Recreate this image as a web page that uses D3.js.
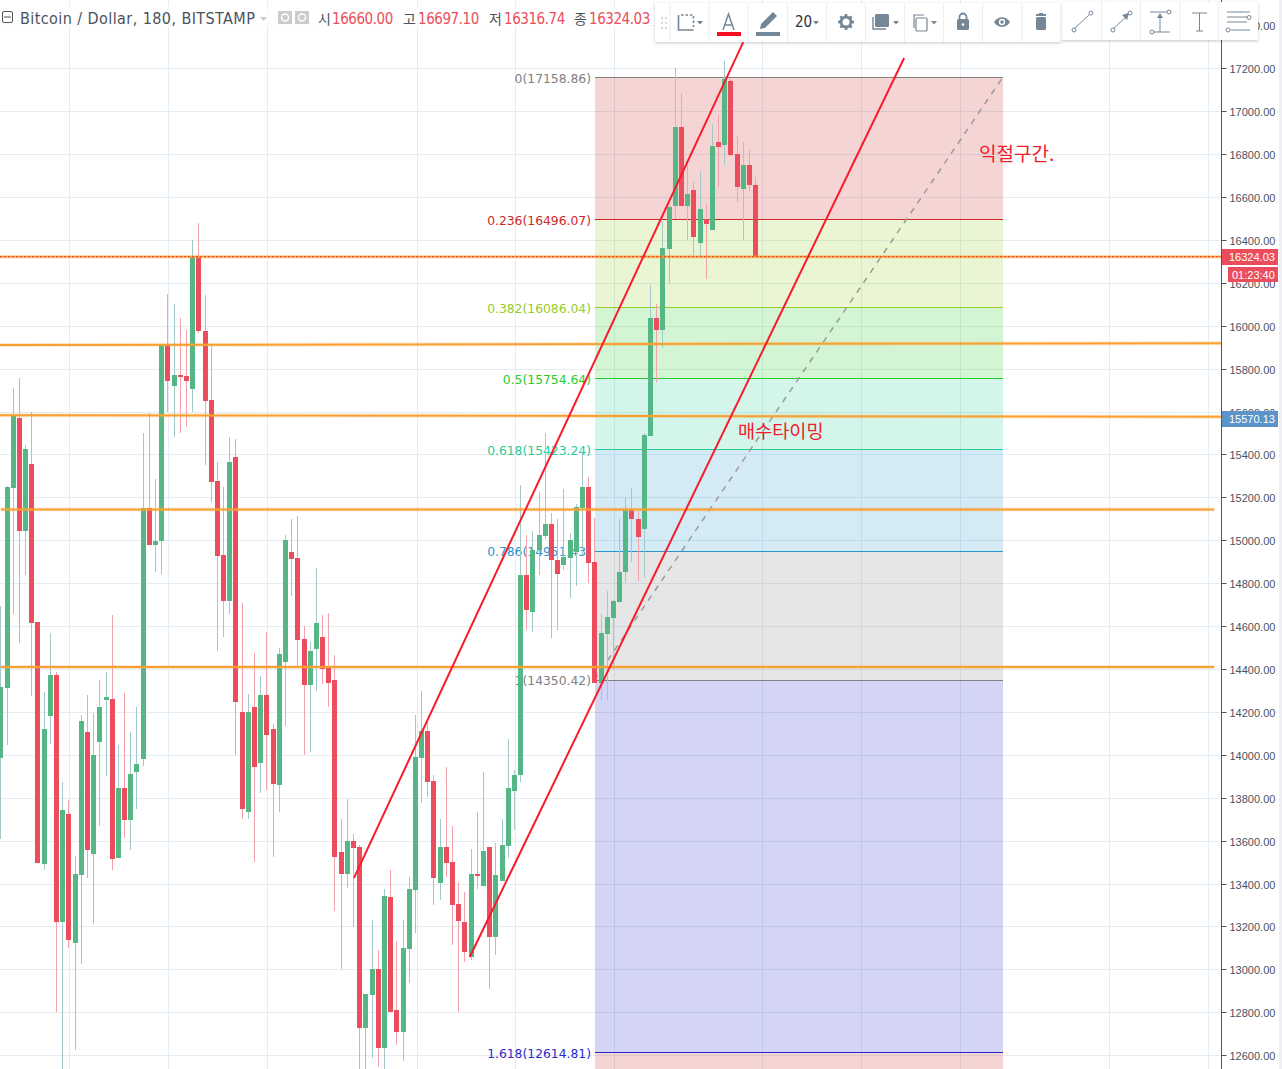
<!DOCTYPE html>
<html><head><meta charset="utf-8">
<script src="https://d3js.org/d3.v7.min.js"></script>
<style>html,body{margin:0;padding:0;background:#fff;overflow:hidden}svg{display:block}text{white-space:pre}</style>
</head><body><div id="c"></div>
<script>
const opens=[13988,14314,15246,15572,15046,15358,14621,13494,14183,14374,13223,13727,13126,13442,14109,13540,14062,14258,14263,13522,13848,13699,13922,13983,15153,14980,14999,15917,15721,15772,15768,15707,16322,15978,15656,15279,14934,14719,15390,14202,13736,14225,13964,14281,14123,13862,14435,14948,14920,14542,14328,14496,14552,14407,14351,13550,13447,13601,13573,12730,12883,13004,12636,13340,12813,12711,13098,13373,13988,14114,13881,13405,13573,13503,13307,13223,13060,13447,13391,13573,13154,13415,13578,13834,13908,14840,14668,14957,15022,15078,14910,14887,14920,14948,15153,15251,14901,14337,14566,14640,14715,14854,15148,15101,15055,15488,16038,15982,16360,16560,16928,16560,16635,16388,16499,16448,16858,16844,17143,16802,16639,16751,16660];
const highs=[14696,15255,15712,15759,15446,15600,14621,14295,14570,14388,13876,13792,13531,14188,14281,14197,14351,14388,14654,14048,14291,14109,14225,15502,15595,15288,15917,16150,16103,16038,15982,16402,16481,16145,15917,15367,15251,15484,15474,14710,14286,14477,14370,14575,14146,14500,15027,15101,15115,14603,14528,14873,14654,14663,14468,13703,13797,13634,13582,12888,13233,13093,13377,13466,13135,13233,13433,14188,14300,14165,13908,13703,13946,13671,13410,13363,13564,13736,13922,13573,13592,13703,14076,13932,15260,15027,15046,15227,15502,15129,15101,15241,15036,15171,15418,15297,15106,14659,14766,14724,15101,15204,15246,15139,15502,16192,16103,16490,16565,17203,17087,16751,16672,16723,16569,16942,16984,17236,17152,16886,16858,16821,16697.1];
const lows=[13610,14048,14659,14524,14840,14277,13498,13466,14053,12804,12510,13102,12627,13028,13429,13214,13671,13904,13466,13522,13615,13559,13750,13950,14980,14854,14845,15600,15484,15502,15530,15600,15968,15353,15181,14486,14552,14659,14002,13703,13703,13503,13825,13839,13526,13736,14137,14743,14416,14002,14016,14300,14333,14225,13275,13004,13382,13200,12510,12510,12590,12548,12510,12804,12650,12576,12939,13172,13778,13806,13303,13326,13433,13116,12804,13037,13046,13377,13391,12911,13070,13415,13522,13652,13876,14584,14575,14840,15008,14547,14584,14864,14733,14789,14934,14803,14337,14258,14258,14398,14710,14803,14901,14813,14827,15488,15740,15898,16197,16499,16560,16402,16332,16322,16220,16448,16649,16751,16793,16579,16402,16630,16316.74];
const closes=[14319,15251,15586,15046,15428,14617,13498,14123,14374,13223,13745,13140,13447,14160,13559,14002,14225,14272,13517,13848,13699,13913,13960,15153,14980,14999,15912,15745,15772,15763,15745,16322,15978,15651,15274,14929,14719,15367,14249,13750,14202,13946,14281,14095,13867,14472,15004,14915,14538,14328,14486,14617,14402,14337,13526,13447,13601,13568,12730,12888,13004,12636,13345,12804,12711,13102,13377,13992,14114,13876,13429,13573,13498,13303,13228,13084,13447,13442,13554,13154,13442,13582,13848,13908,14840,14677,14957,15027,15078,14910,14845,14924,15004,15157,15251,14896,14337,14570,14645,14719,14854,15148,15101,15018,15493,16038,15982,16364,16555,16928,16560,16616,16416,16546,16476,16840,16835,17152,16798,16649,16751,16658,16324.03];
const priceTicks=[12600,12800,13000,13200,13400,13600,13800,14000,14200,14400,14600,14800,15000,15200,15400,15600,15800,16000,16200,16400,16600,16800,17000,17200,17400];
const fibPrices=[17158.86,16496.07,16086.04,15754.64,15423.24,14951.43,14350.42,12614.81];
const fibLabels=["0(17158.86)","0.236(16496.07)","0.382(16086.04)","0.5(15754.64)","0.618(15423.24)","0.786(14951.43)","1(14350.42)","1.618(12614.81)"];
const fibLineColors=["#808080","#cc2828","#95cc28","#28cc28","#28cc95","#2895cc","#808080","#2929cc"];
const fibBandColors=["rgba(204,40,40,.2)","rgba(149,204,40,.2)","rgba(40,204,40,.2)","rgba(40,204,149,.2)","rgba(40,149,204,.2)","rgba(128,128,128,.2)","rgba(41,41,204,.2)","rgba(204,40,40,.2)"];
const lastPrice=16324.03, fibX0=95.9, fibX1=161.9;
const sloped=[[57.0,13429,119.9,17324],[75.7,13060,145.9,17250]];
const levels=[[-0.2,15912,197.2,15921],[-0.2,15585,197.2,15578],[0,15146,196.1,15146],[0,14412,196.1,14412]];
const headerVals=["16660.00","16697.10","16316.74","16324.03"];
const headerKeys=["시","고","저","종"];

const W=1282,H=1069,AX=1221;
const svg=d3.select("#c").append("svg").attr("width",W).attr("height",H).style("font-family","'Liberation Sans',sans-serif");
const x=d3.scaleLinear().domain([0,122]).range([0.85,755.725]);
const y=d3.scaleLinear().domain([12300,17600]).range([68.7+4900*0.21457,68.7-400*0.21457]);
const py=v=>Math.floor(y(v))+.5;
const GRID="#e4edf3",GREEN="#56b786",RED="#eb4d5c",GW="#a2c9c9",RW="#f4a3ad",ORANGE="#f9a032";

// grid
const gx=[69,168,267,417,515,614,762,861,960,1109,1208];
const g0=svg.append("g");
g0.selectAll("line.h").data(priceTicks).join("line").attr("x1",0).attr("x2",AX)
 .attr("y1",py).attr("y2",py).attr("stroke",GRID);
g0.selectAll("line.v").data(gx).join("line").attr("x1",d=>d+.5).attr("x2",d=>d+.5).attr("y1",0).attr("y2",H).attr("stroke",GRID);

// fib bands
const g1=svg.append("g");
const bandEdges=fibPrices.map(p=>Math.floor(y(p))).concat([H]);
g1.selectAll("rect").data(fibBandColors).join("rect").attr("x",595).attr("width",408)
 .attr("y",(d,i)=>bandEdges[i]).attr("height",(d,i)=>bandEdges[i+1]-bandEdges[i]).attr("fill",d=>d);
g1.selectAll("line").data(fibPrices).join("line").attr("x1",595).attr("x2",1003)
 .attr("y1",py).attr("y2",py).attr("stroke",(d,i)=>fibLineColors[i]);
g1.selectAll("text").data(fibLabels).join("text").text(d=>d).attr("x",591).attr("y",(d,i)=>Math.round(y(fibPrices[i]))+4.5)
 .attr("text-anchor","end").attr("fill",(d,i)=>fibLineColors[i]).attr("font-family","'DejaVu Sans',sans-serif").attr("font-size",12.35);
// fib diagonal
svg.append("line").attr("x1",x(fibX0)).attr("x2",x(fibX1)).attr("y1",y(fibPrices[6])).attr("y2",y(fibPrices[0]))
 .attr("stroke","#9a9a9a").attr("stroke-width",1.5).attr("stroke-dasharray","6 6");

// candles
const bars=d3.range(opens.length);
const col=i=>closes[i]>=opens[i];
const gc=svg.append("g");
gc.selectAll("rect.w").data(bars).join("rect").attr("x",i=>Math.floor(x(i))).attr("width",1)
 .attr("y",i=>Math.round(y(highs[i]))).attr("height",i=>Math.max(1,Math.round(y(lows[i]))-Math.round(y(highs[i]))))
 .attr("fill",i=>col(i)?GW:RW);
gc.selectAll("rect.b").data(bars).join("rect").attr("x",i=>Math.floor(x(i))-2).attr("width",5)
 .attr("y",i=>Math.round(y(Math.max(opens[i],closes[i]))))
 .attr("height",i=>Math.max(2,Math.round(y(Math.min(opens[i],closes[i])))-Math.round(y(Math.max(opens[i],closes[i])))))
 .attr("fill",i=>col(i)?GREEN:RED);

// horizontal levels
const gl=svg.append("g");
function lvl(d){return {x1:x(d[0]),x2:x(d[2]),y1:y(d[1]),y2:y(d[3])};}
levels.forEach(d=>{const p=lvl(d);
 [[4,.22],[2,1]].forEach(s=>gl.append("line").attr("x1",p.x1).attr("x2",p.x2).attr("y1",p.y1).attr("y2",p.y2).attr("stroke",ORANGE).attr("stroke-width",s[0]).attr("opacity",s[1]));
});
[[4,.22],[2,.9]].forEach(s=>gl.append("line").attr("x1",0).attr("x2",AX).attr("y1",y(lastPrice)).attr("y2",y(lastPrice)).attr("stroke",ORANGE).attr("stroke-width",s[0]).attr("opacity",s[1]));
gl.append("line").attr("x1",0).attr("x2",AX).attr("y1",y(lastPrice)).attr("y2",y(lastPrice)).attr("stroke","#ee3344").attr("stroke-dasharray","2 2");

// sloped trend lines
svg.append("g").selectAll("line").data(sloped).join("line")
 .attr("x1",d=>x(d[0])+.5).attr("y1",d=>y(d[1])).attr("x2",d=>x(d[2])+.5).attr("y2",d=>y(d[3]))
 .attr("stroke","#fa1a2a").attr("stroke-width",2);

// Korean notes
const note=(t,px,yy,fs)=>svg.append("text").text(t).attr("x",px).attr("y",yy).attr("fill","#f01c2c").attr("font-size",fs)
 .attr("font-family","'Noto Sans CJK KR',sans-serif");
note("익절구간.",979,161,19);
note("매수타이밍",738,438,18.6);

// axis
const axis=d3.axisRight(y).tickValues(priceTicks).tickSize(5).tickSizeOuter(0).tickPadding(3).offset(0).tickFormat(d3.format(".2f"));
const ga=svg.append("g").attr("transform",`translate(${AX+.5},0)`).call(axis);
ga.selectAll(".tick").attr("transform",d=>`translate(0,${py(d)})`);
ga.selectAll("text").attr("font-size",11).attr("fill","#4c525e").attr("font-family","'Liberation Sans',sans-serif").attr("dy","0.36em").attr("y",1);
ga.selectAll("line").attr("stroke","#555");
ga.select(".domain").attr("stroke","#555");
svg.append("rect").attr("x",1279).attr("y",0).attr("width",3).attr("height",H).attr("fill","#eef0f3");

function tag(x0,x1,y0,y1,fill,t,tx){
 svg.append("rect").attr("x",x0).attr("y",y0).attr("width",x1-x0).attr("height",y1-y0).attr("fill",fill);
 svg.append("text").text(t).attr("x",tx).attr("y",(y0+y1)/2+4).attr("fill","#fff").attr("font-size",11).attr("font-family","'Liberation Sans',sans-serif");
}
tag(1222,1278,249,265,RED,"16324.03",1229);
tag(1228,1278,267,282,RED,"01:23:40",1232);
tag(1222,1278,411,427,"#5a94c9","15570.13",1229);

// header
const hd=svg.append("g").attr("font-family","'DejaVu Sans Condensed','DejaVu Sans',sans-serif");
hd.append("rect").attr("x",0).attr("y",6).attr("width",652).attr("height",21).attr("fill","#fff").attr("opacity",.75);
hd.append("rect").attr("x",2.5).attr("y",11.5).attr("width",10).attr("height",11).attr("rx",1.5).attr("fill","none").attr("stroke","#555");
hd.append("line").attr("x1",4).attr("x2",11).attr("y1",17).attr("y2",17).attr("stroke","#555");
hd.append("text").text("Bitcoin / Dollar, 180, BITSTAMP").attr("x",20).attr("y",24).attr("font-size",16).attr("letter-spacing",.42).attr("fill","#4c525e");
hd.append("path").attr("d","M260 17h7l-3.5 4z").attr("fill","#ccc");
[278,295].forEach(px=>{hd.append("rect").attr("x",px).attr("y",11).attr("width",14).attr("height",13).attr("fill","#ccc");
 hd.append("circle").attr("cx",px+7).attr("cy",17.5).attr("r",3.5).attr("fill","none").attr("stroke","#fff").attr("stroke-width",1.5);});
const keyX=[318,403,489,574],valX=[332,418,504,589];
headerKeys.forEach((k,i)=>{
 hd.append("text").text(k).attr("x",keyX[i]).attr("y",24).attr("font-size",14).attr("fill","#4c525e").attr("font-family","'Noto Sans CJK KR',sans-serif");
 hd.append("text").text(headerVals[i]).attr("x",valX[i]).attr("y",24).attr("font-size",15).attr("letter-spacing",-.45).attr("fill",RED);
});

// toolbars
const tb=svg.append("g");
const defs=svg.append("defs");
const f=defs.append("filter").attr("id","s").attr("x","-5%").attr("y","-20%").attr("width","110%").attr("height","140%");
f.append("feDropShadow").attr("dx",0).attr("dy",1).attr("stdDeviation",1.5).attr("flood-color","#000").attr("flood-opacity",.22);
tb.append("rect").attr("x",1061).attr("y",2).attr("width",197).attr("height",38).attr("fill","#fff").attr("filter","url(#s)");
tb.append("rect").attr("x",655).attr("y",3).attr("width",405.5).attr("height",39).attr("fill","#fff").attr("filter","url(#s)");
[670,709,748,787.5,826.5,865.5,904.5,943.5,982.5,1022].forEach(v=>tb.append("line").attr("x1",v).attr("x2",v).attr("y1",3).attr("y2",42).attr("stroke","#eceef1"));
[1101.5,1140.5,1180,1218.5].forEach(v=>tb.append("line").attr("x1",v).attr("x2",v).attr("y1",2).attr("y2",40).attr("stroke","#eceef1"));
const IC="#758696";
[661,665].forEach(a=>[17,22,27].forEach(b=>tb.append("rect").attr("x",a).attr("y",b).attr("width",2).attr("height",2).attr("fill","#d4d8dc")));
const caret=px=>tb.append("path").attr("d",`M${px} 21h6l-3 3.5z`).attr("fill",IC);
tb.append("path").attr("d","M678.5 15v15h15").attr("fill","none").attr("stroke",IC).attr("stroke-width",1.6);
tb.append("path").attr("d","M681 15h12.5v12").attr("fill","none").attr("stroke",IC).attr("stroke-width",1.6).attr("stroke-dasharray","2.5 2");
caret(697);
tb.append("path").attr("d","M723 30l5.5-16 5.5 16M725 25h7").attr("fill","none").attr("stroke",IC).attr("stroke-width",1.5);
tb.append("rect").attr("x",717).attr("y",32).attr("width",24).attr("height",4).attr("fill","#f5101f");
tb.append("path").attr("d","M760 29l1-5 12-12 4 4-12 12z").attr("fill",IC);
tb.append("rect").attr("x",756).attr("y",32).attr("width",24).attr("height",4).attr("fill",IC);
tb.append("text").text("20").attr("x",795).attr("y",27).attr("font-size",15).attr("fill","#333").attr("font-family","'DejaVu Sans Condensed','DejaVu Sans',sans-serif");
caret(813);
tb.append("circle").attr("cx",846).attr("cy",22).attr("r",5).attr("fill","none").attr("stroke",IC).attr("stroke-width",3);
d3.range(8).forEach(a=>tb.append("rect").attr("x",844.7).attr("y",14).attr("width",2.6).attr("height",3).attr("fill",IC).attr("transform",`rotate(${a*45} 846 22)`));
tb.append("path").attr("d","M873 17v12h13").attr("fill","none").attr("stroke",IC).attr("stroke-width",1.4);
tb.append("rect").attr("x",875).attr("y",14).attr("width",14).attr("height",13).attr("rx",1.5).attr("fill",IC);
caret(893);
tb.append("rect").attr("x",916).attr("y",18).attr("width",11).attr("height",13).attr("rx",1).attr("fill","none").attr("stroke",IC).attr("stroke-width",1.2);
tb.append("path").attr("d","M914 28V15h10").attr("fill","none").attr("stroke",IC).attr("stroke-width",1.2);
caret(931);
tb.append("path").attr("d","M959.5 19v-2a3.5 3.5 0 0 1 7 0v2").attr("fill","none").attr("stroke",IC).attr("stroke-width",1.8);
tb.append("rect").attr("x",957).attr("y",19).attr("width",12).attr("height",11).attr("rx",1.5).attr("fill",IC);
tb.append("circle").attr("cx",963).attr("cy",24.5).attr("r",1.3).attr("fill","#fff");
tb.append("path").attr("d","M994 22c4-6.5 12-6.5 16 0c-4 6.5-12 6.5-16 0z").attr("fill",IC);
tb.append("circle").attr("cx",1002).attr("cy",22).attr("r",3.2).attr("fill","#fff");
tb.append("circle").attr("cx",1002).attr("cy",22).attr("r",1.8).attr("fill",IC);
tb.append("rect").attr("x",1036).attr("y",14).attr("width",10).attr("height",2).attr("fill",IC);
tb.append("rect").attr("x",1039).attr("y",13).attr("width",4).attr("height",2).attr("fill",IC);
tb.append("rect").attr("x",1036).attr("y",17).attr("width",10).attr("height",13).attr("rx",1.5).attr("fill",IC);
const hollow=(a,b)=>tb.append("circle").attr("cx",a).attr("cy",b).attr("r",2).attr("fill","#fff").attr("stroke",IC);
const seg=(a,b,c,d)=>tb.append("line").attr("x1",a).attr("y1",b).attr("x2",c).attr("y2",d).attr("stroke",IC).attr("stroke-width",1);
seg(1074,29,1090,14);hollow(1074,30);hollow(1091,13);
seg(1113,29,1129,14);hollow(1113,30);hollow(1130,13);tb.append("path").attr("d","M1129 13l-7 2 5 5z").attr("fill",IC);
seg(1150,12,1167,12);seg(1153,32,1170,32);seg(1160,32,1160,15);tb.append("path").attr("d","M1160 13l-3 5h6z").attr("fill",IC);hollow(1169,12);hollow(1152,32);
seg(1192,13,1207,13);seg(1199.5,13,1199.5,31);seg(1196,31,1203,31);
seg(1227,12,1250,12);seg(1227,22,1247,22);seg(1231,30,1250,30);seg(1227,17,1250,17);hollow(1249,17.5);hollow(1228,30);
</script></body></html>
